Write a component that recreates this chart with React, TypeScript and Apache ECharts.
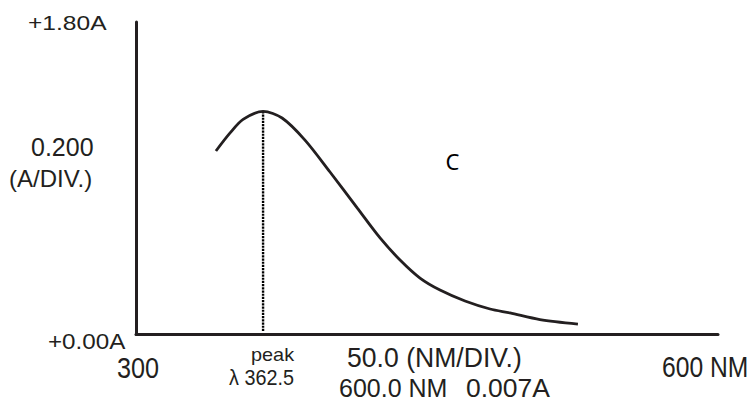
import React, { useEffect, useRef } from "react";
import * as echarts from "echarts";

// Spectrum (wavelength nm, absorbance A)
const wavelengths = [341.2, 348.5, 355.2, 365.5, 375.3, 387.1, 400.0, 414.0, 425.8, 436.1, 446.4, 456.7, 469.6, 482.5, 492.8, 508.2, 527.8];
const absorbance = [1.057, 1.161, 1.239, 1.285, 1.247, 1.12, 0.936, 0.729, 0.556, 0.429, 0.325, 0.256, 0.193, 0.147, 0.124, 0.086, 0.06];
const peakWavelength = 365.5;
const peakAbsorbance = 1.285;
const xRange = [300, 600];
const yRange = [0, 1.8];

const labelTexts = {
  yTop: "+1.80A",
  yScale: "0.200",
  yUnit: "(A/DIV.)",
  yZero: "+0.00A",
  xStart: "300",
  peak: "peak",
  peakLambda: "λ 362.5",
  xScale: "50.0 (NM/DIV.)",
  cursorNm: "600.0 NM",
  cursorA: "0.007A",
  xEnd: "600 NM",
  sample: "C",
};

const INK = "#231f20";
const FONT = "'Liberation Sans', Arial, Helvetica, sans-serif";

function txt(text: string, x: number, y: number, fontSize: number, scaleX: number, extra: any = {}) {
  return {
    type: "text",
    x,
    y,
    scaleX,
    style: {
      text,
      fontSize,
      fontFamily: FONT,
      fill: INK,
      textAlign: "left",
      verticalAlign: "middle",
      ...extra,
    },
  };
}

export default function App() {
  const ref = useRef<HTMLDivElement>(null);
  useEffect(() => {
    if (!ref.current) return;
    const chart = echarts.init(ref.current, undefined, { renderer: "svg" });
    const curve = wavelengths.map((w, i) => [w, absorbance[i]]);
    chart.setOption({
      animation: false,
      backgroundColor: "#ffffff",
      grid: { left: 136, right: 33, top: 22, bottom: 67.5, containLabel: false },
      xAxis: {
        type: "value",
        min: xRange[0],
        max: xRange[1],
        axisLine: { show: true, lineStyle: { color: INK, width: 3 } },
        axisTick: { show: false },
        axisLabel: { show: false },
        splitLine: { show: false },
      },
      yAxis: {
        type: "value",
        min: yRange[0],
        max: yRange[1],
        axisLine: { show: true, lineStyle: { color: INK, width: 3 } },
        axisTick: { show: false },
        axisLabel: { show: false },
        splitLine: { show: false },
      },
      series: [
        {
          type: "line",
          data: curve,
          smooth: 0.3,
          showSymbol: false,
          symbol: "none",
          lineStyle: { color: INK, width: 2.8, cap: "butt" },
          z: 3,
        },
        {
          type: "line",
          data: [
            [peakWavelength, 0.02],
            [peakWavelength, peakAbsorbance],
          ],
          showSymbol: false,
          symbol: "none",
          lineStyle: { color: "#000", width: 2.4, type: [2.2, 1] },
          z: 2,
        },
      ],
      graphic: [
        txt(labelTexts.yTop, 28, 22.5, 21, 1.17),
        txt(labelTexts.yScale, 31, 147, 25, 1.0),
        txt(labelTexts.yUnit, 9, 178, 24, 1.0),
        txt(labelTexts.yZero, 48, 341, 22, 1.1),
        txt(labelTexts.xStart, 117, 367.5, 29, 0.87),
        txt(labelTexts.peak, 251, 354.5, 18.4, 1.08),
        txt(labelTexts.peakLambda, 229, 377, 22, 0.9),
        txt(labelTexts.xScale, 347, 357, 28, 0.95),
        txt(labelTexts.cursorNm, 339, 388, 25, 1.0),
        txt(labelTexts.cursorA, 466, 388, 25, 1.06),
        txt(labelTexts.xEnd, 662, 367, 29, 0.85),
        {
          type: "text",
          x: 452.5,
          y: 161,
          style: {
            text: labelTexts.sample,
            fontSize: 22,
            fontFamily: "'Noto Sans', 'Open Sans', sans-serif",
            fill: "#000",
            textAlign: "center",
            verticalAlign: "middle",
          },
        },
      ],
    });
    return () => chart.dispose();
  }, []);
  return <div ref={ref} style={{ width: 751, height: 402, position: "absolute", left: 0, top: 0 }} />;
}
